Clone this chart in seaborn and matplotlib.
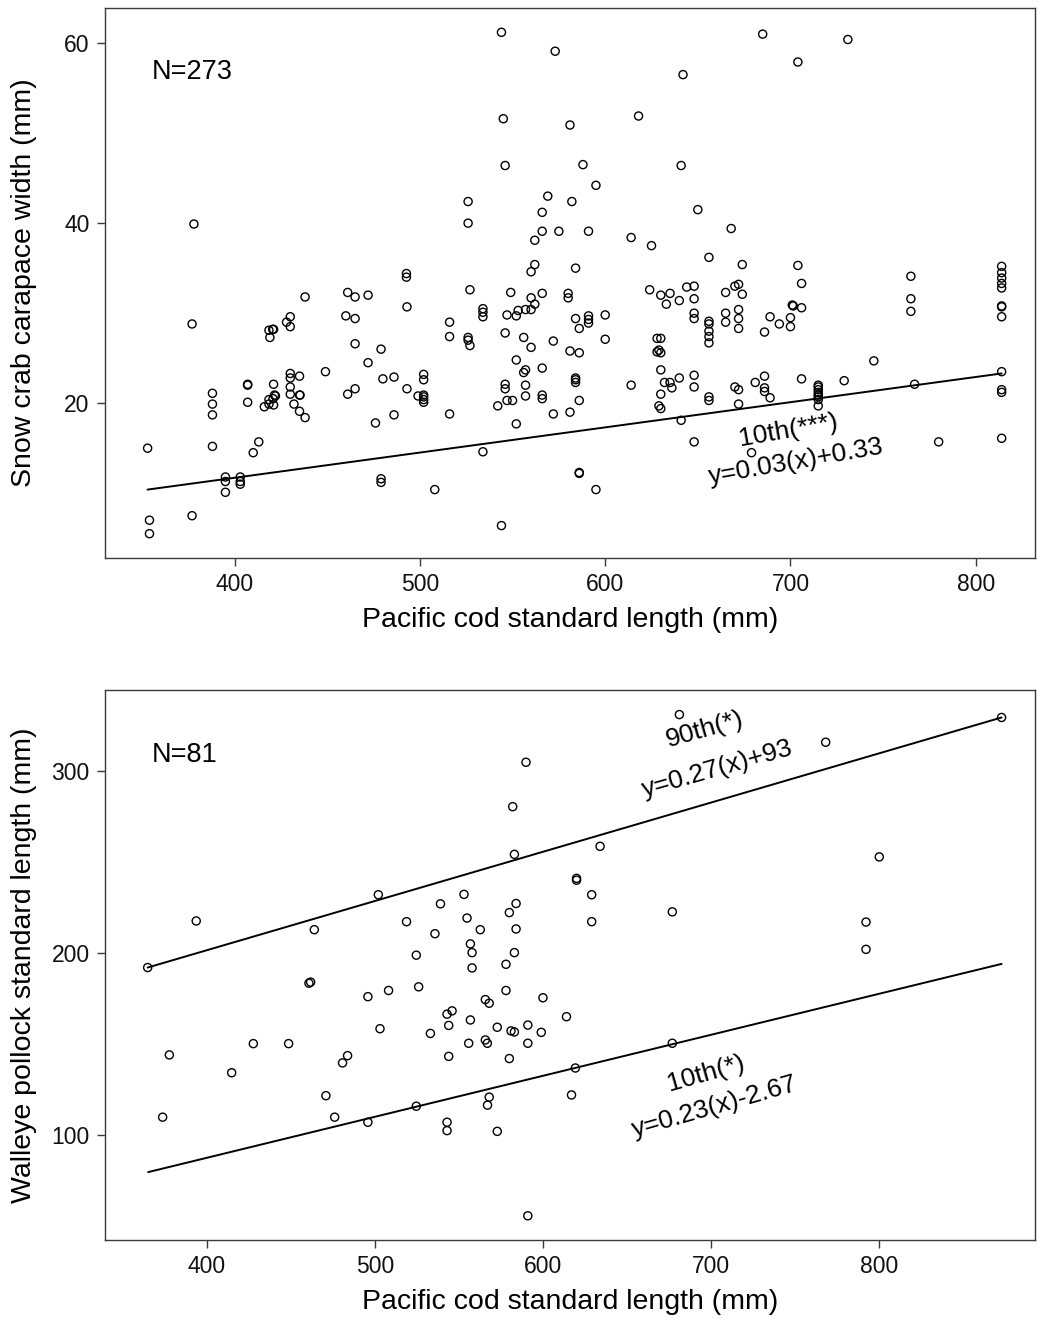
import numpy as np
import pandas as pd
import matplotlib
matplotlib.use("Agg")
import matplotlib.pyplot as plt
import seaborn as sns

# ---------------- Data: top panel (snow crab) ----------------
crab_cod_len = [
    378, 492.7, 492.7,
    438, 461, 465, 472, 493, 377, 460, 465, 430, 428, 430, 418.5, 420.5, 421, 419, 465, 479, 472, 449,
    388, 388, 388, 407, 407, 407, 421, 418.5, 420.7, 422, 421.5, 416, 418.5, 421, 430, 430, 435, 430,
    430, 435, 435.3, 432, 435, 438, 461, 465, 480, 486, 493, 499, 486, 476, 353, 388, 413, 410,
    395, 395, 395, 403, 403, 403, 479, 479, 354, 354, 377,
    544, 573, 642, 545, 581, 618, 546, 588, 641, 595, 526, 526, 569, 582, 566, 650, 566, 575, 591,
    614, 625, 562, 656, 562, 560, 584,
    527, 549, 560, 566, 562, 580, 580, 516, 516, 534, 534, 534, 547, 552, 553, 557, 560, 526, 526,
    527, 546, 556, 560, 552, 557, 556, 566, 572, 584, 586, 591, 591, 591, 600, 600, 581, 586,
    624, 630, 635, 633, 640, 644, 648, 648, 648, 648, 656, 656, 656, 656, 656, 628, 630, 628, 629,
    630, 630, 630, 629, 630, 632, 635, 636, 640, 648, 648, 656, 656, 641, 648,
    502, 502, 502, 502, 502, 502, 516, 534, 546, 546, 542, 547, 550, 557, 557, 552, 566, 566, 572,
    581, 584, 584, 584, 586, 614, 586, 586, 508, 595, 544,
    685, 731, 704, 668, 674, 704, 765, 814, 814, 814, 814, 814, 670, 672, 706,
    665, 674, 665, 665, 672, 672, 672, 686, 689, 694, 700, 700, 701, 701.5, 706, 765, 765,
    814, 814, 814, 670, 672, 672, 681, 686, 686, 686, 689, 706, 715, 715, 715, 715, 715, 715, 715,
    715, 729, 745, 767, 814, 814, 814, 814, 780, 679,
]
crab_width = [
    39.9, 34.4, 34.0,
    31.8, 32.3, 31.8, 32.0, 30.7, 28.8, 29.7, 29.4, 29.6, 29.0, 28.5, 28.1, 28.2, 28.2, 27.3, 26.6, 26.0, 24.5, 23.5,
    21.1, 19.9, 18.7, 22.1, 22.0, 20.1, 22.1, 20.4, 20.5, 20.8, 20.9, 19.6, 19.9, 19.8, 23.3, 22.8, 23.0, 21.8,
    21.0, 20.9, 20.9, 19.9, 19.1, 18.4, 21.0, 21.6, 22.7, 22.9, 21.6, 20.8, 18.7, 17.8, 15.0, 15.2, 15.7, 14.5,
    11.8, 11.3, 10.1, 11.8, 11.3, 11.0, 11.6, 11.2, 7.0, 5.5, 7.5,
    61.2, 59.1, 56.5, 51.6, 50.9, 51.9, 46.4, 46.5, 46.4, 44.2, 42.4, 40.0, 43.0, 42.4, 41.2, 41.5, 39.1, 39.1, 39.1,
    38.4, 37.5, 38.1, 36.2, 35.4, 34.6, 35.0,
    32.6, 32.3, 31.7, 32.2, 31.0, 32.2, 31.7, 29.0, 27.4, 30.5, 30.1, 29.6, 29.8, 29.7, 30.3, 30.4, 30.4, 27.3, 27.0,
    26.4, 27.8, 27.3, 26.2, 24.8, 23.7, 23.4, 23.9, 26.9, 29.4, 28.3, 29.7, 29.3, 28.9, 29.8, 27.1, 25.8, 25.6,
    32.6, 32.0, 32.2, 31.0, 31.4, 32.9, 33.0, 31.6, 30.0, 29.4, 29.1, 28.8, 28.0, 27.4, 26.7, 27.2, 27.2, 25.7, 25.9,
    25.6, 23.7, 21.0, 19.7, 19.4, 22.3, 22.3, 21.7, 22.8, 23.1, 21.8, 20.7, 20.3, 18.1, 15.7,
    23.2, 22.6, 20.9, 20.7, 20.4, 20.1, 18.8, 14.6, 22.1, 21.6, 19.7, 20.3, 20.3, 22.0, 20.8, 17.7, 20.9, 20.5, 18.8,
    19.0, 22.8, 22.6, 22.3, 20.3, 22.0, 12.3, 12.2, 10.4, 10.4, 6.4,
    61.0, 60.4, 57.9, 39.4, 35.4, 35.3, 34.1, 35.2, 34.5, 33.9, 33.3, 32.8, 33.0, 33.2, 33.3,
    32.3, 32.1, 30.0, 29.0, 30.4, 29.4, 28.3, 27.9, 29.6, 28.8, 29.5, 28.5, 30.9, 30.8, 30.6, 31.6, 30.2,
    30.8, 30.7, 29.6, 21.8, 21.5, 19.9, 22.3, 23.0, 21.7, 21.3, 20.6, 22.7, 22.0, 21.8, 21.5, 21.2, 20.9, 20.7, 20.4,
    19.7, 22.5, 24.7, 22.1, 23.5, 21.5, 21.2, 16.1, 15.7, 14.5,
]
crab_q10_x = [353, 814]
crab_q10_y = [10.4, 23.3]

# ---------------- Data: bottom panel (walleye pollock) ----------------
pol_cod_len = [
    364.7, 393.6, 377.6, 373.6, 414.7, 427.6, 448.6, 463.9, 460.7, 461.7, 470.8, 476, 480.7, 483.7,
    495.8, 502, 503, 508.1, 495.8, 518.8, 524.6, 526, 524.6,
    681.2, 589.9, 582, 583, 634, 620, 620, 629, 629, 677, 553, 539, 554.8, 580, 584, 562.7, 584,
    535.7, 556.8, 557.8, 557.8, 583, 578, 578, 600, 565.7, 568, 542.9, 545.9, 556.8, 543.9, 533,
    572.8, 581, 583, 591, 599, 614, 555.8, 565.7, 566.9, 591, 543.9, 580, 677, 619.3, 617, 568,
    567, 542.9, 542.9, 572.8, 591,
    873, 768.3, 800.2, 792.3, 792.3,
]
pol_len = [
    192, 217.6, 144, 109.8, 134.2, 150.2, 150.2, 212.8, 183.4, 184, 121.6, 109.8, 139.6, 143.6,
    176, 232, 158.4, 179.4, 107, 217.2, 198.8, 181.4, 115.8,
    331, 304.8, 280.4, 254.2, 258.6, 241, 240, 232, 217.2, 222.6, 232.2, 227, 219.2, 222.2, 227.2, 212.8, 213.2,
    210.6, 205, 200.2, 191.8, 200.2, 193.8, 179.4, 175.4, 174.4, 172.4, 166.4, 168.2, 163.2, 160.2, 155.8,
    159.2, 157.2, 156.6, 160.4, 156.4, 165, 150.4, 152.2, 150.4, 150.4, 143.2, 142, 150.4, 136.8, 122, 120.8,
    116.4, 107, 102.4, 102, 55.6,
    329.4, 315.8, 252.8, 217, 202,
]
pol_q90_x = [364.7, 873]
pol_q90_y = [192, 329.4]
pol_q10_x = [365, 873]
pol_q10_y = [79.6, 194]

top_df = pd.DataFrame({"cod": crab_cod_len, "crab": crab_width})
bot_df = pd.DataFrame({"cod": pol_cod_len, "pollock": pol_len})

sns.set_theme(style="ticks")
plt.rcParams["font.family"] = ["Liberation Sans", "DejaVu Sans"]
plt.rcParams["text.color"] = "black"
plt.rcParams["axes.labelcolor"] = "black"
plt.rcParams["axes.edgecolor"] = "#3a3a3a"
plt.rcParams["axes.linewidth"] = 1.0
plt.rcParams["xtick.color"] = "#3a3a3a"
plt.rcParams["ytick.color"] = "#3a3a3a"
plt.rcParams["xtick.labelcolor"] = "#111111"
plt.rcParams["ytick.labelcolor"] = "#111111"

W, H = 1038, 1318
fig = plt.figure(figsize=(W / 100, H / 100), dpi=100)
ax1 = fig.add_axes([105 / W, 1 - 558 / H, 930 / W, 550 / H])
ax2 = fig.add_axes([105 / W, 1 - 1240 / H, 930 / W, 550 / H])

pt_kw = dict(marker="o", s=34, facecolors="none", edgecolor="black", linewidth=1.0, legend=False)

sns.scatterplot(data=top_df, x="cod", y="crab", ax=ax1, **pt_kw)
sns.lineplot(x=crab_q10_x, y=crab_q10_y, ax=ax1, color="black", linewidth=1.4)

sns.scatterplot(data=bot_df, x="cod", y="pollock", ax=ax2, **pt_kw)
sns.lineplot(x=pol_q90_x, y=pol_q90_y, ax=ax2, color="black", linewidth=1.4)
sns.lineplot(x=pol_q10_x, y=pol_q10_y, ax=ax2, color="black", linewidth=1.4)

ax1.set_xlim(330, 832)
ax1.set_ylim(2.8, 63.9)
ax1.set_xticks([400, 500, 600, 700, 800])
ax1.set_yticks([20, 40, 60])
ax1.set_xlabel("Pacific cod standard length (mm)", fontsize=20.5)
ax1.set_ylabel("Snow crab carapace width (mm)", fontsize=20.5)

ax2.set_xlim(339.3, 892.9)
ax2.set_ylim(42.3, 344.5)
ax2.set_xticks([400, 500, 600, 700, 800])
ax2.set_yticks([100, 200, 300])
ax2.set_xlabel("Pacific cod standard length (mm)", fontsize=20.5)
ax2.set_ylabel("Walleye pollock standard length (mm)", fontsize=20.5)

for ax in (ax1, ax2):
    for sp in ax.spines.values():
        sp.set_visible(True)
    ax.tick_params(axis="both", direction="out", length=6, width=1.0, labelsize=16.5, pad=5)
    ax.yaxis.set_label_coords(-0.0870, 0.5)
    ax.xaxis.set_label_coords(0.5, -0.1127)
    ax.xaxis.label.set_va("center")
    ax.yaxis.label.set_va("center")

ax1.text(0.0505, 0.8836, "N=273", transform=ax1.transAxes, fontsize=19.5, ha="left", va="center")
ax2.text(0.0505, 0.882, "N=81", transform=ax2.transAxes, fontsize=19.5, ha="left", va="center")

ax1.text(699, 17.0, "10th(***)", fontsize=19, ha="center", va="center", rotation=10, rotation_mode="anchor")
ax1.text(703, 13.5, "y=0.03(x)+0.33", fontsize=19, ha="center", va="center", rotation=10, rotation_mode="anchor")

ax2.text(696.4, 323.0, "90th(*)", fontsize=19, ha="center", va="center", rotation=16, rotation_mode="anchor")
ax2.text(703.6, 301.0, "y=0.27(x)+93", fontsize=19, ha="center", va="center", rotation=16, rotation_mode="anchor")
ax2.text(697, 134.0, "10th(*)", fontsize=19, ha="center", va="center", rotation=16, rotation_mode="anchor")
ax2.text(702.4, 115.5, "y=0.23(x)-2.67", fontsize=19, ha="center", va="center", rotation=16, rotation_mode="anchor")

fig.savefig("out.png", dpi=100)
